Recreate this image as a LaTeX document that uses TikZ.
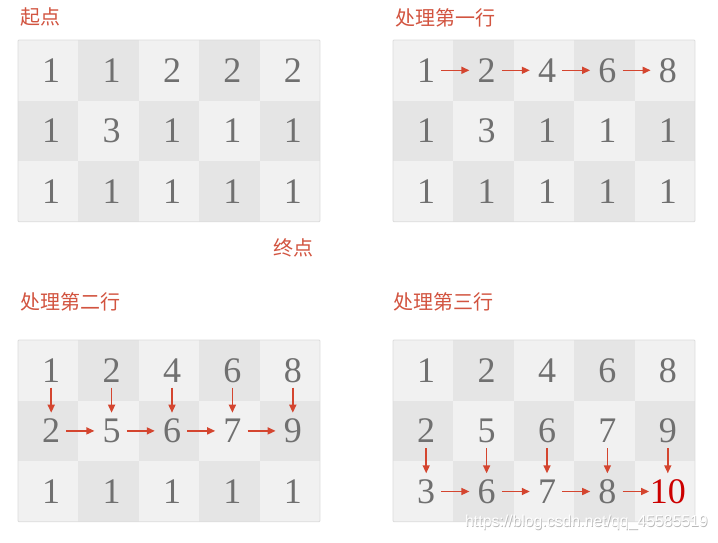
\documentclass[tikz,border=0pt]{standalone}
\usepackage{fontspec}
\usetikzlibrary{arrows.meta}
\newfontfamily\cjk{Noto Sans CJK SC}
\newfontfamily\wmfont{Liberation Sans}
\newfontfamily\numfont{Liberation Serif}
\definecolor{celllight}{HTML}{F1F1F1}
\definecolor{celldark}{HTML}{E5E5E5}
\definecolor{bordergray}{HTML}{DCDCDC}
\definecolor{numgray}{HTML}{707070}
\definecolor{arrred}{HTML}{D4452F}
\definecolor{labred}{HTML}{D25440}
\definecolor{tenred}{HTML}{CC0000}
\tikzset{
  num/.style={inner sep=0pt, font=\numfont\fontsize{36}{40}\selectfont, text=numgray,
    text height=24pt, text depth=0pt, anchor=center},
  arr/.style={draw=arrred, line width=1.5pt, -{Triangle[length=8pt,width=7pt]}},
  harr/.style={arr, shorten <=6pt, shorten >=8pt},
  varr/.style={arr, shorten <=5pt, shorten >=6pt},
  lab/.style={inner sep=0pt, anchor=west, text=labred, font=\cjk\fontsize{20}{22}\selectfont},
  gridframe/.style={draw=bordergray, line width=0.8pt, rounded corners=1pt}
}
\newcommand\mygrid[6]{%
  \foreach \rowvals [count=\r from 0] in {{#4},{#5},{#6}} {
    \foreach \v [count=\c from 0] in \rowvals {
      \pgfmathtruncatemacro\cellparity{mod(\r+\c,2)}
      \ifnum\cellparity=0 \def\cellcol{celllight}\else\def\cellcol{celldark}\fi
      \fill[\cellcol] ({#2+\c*60.4},{#3+\r*60.6}) rectangle ++(60.4,60.6);
      \node[num] (#1-\r-\c) at ({#2+33.2+\c*60.4},{#3+30.3+\r*60.6}) {\v};
    }
  }
  \draw[gridframe] (#2,#3) rectangle ++(302,181.8);
}
\begin{document}
\begin{tikzpicture}[x=1pt,y=-1pt]
\useasboundingbox[fill=white] (0,0) rectangle (718,542);

\mygrid{ga}{18}{40}{1,1,2,2,2}{1,3,1,1,1}{1,1,1,1,1}
\mygrid{gb}{393}{40}{1,2,4,6,8}{1,3,1,1,1}{1,1,1,1,1}
\mygrid{gc}{18}{340}{1,2,4,6,8}{2,5,6,7,9}{1,1,1,1,1}
\mygrid{gd}{393}{340}{1,2,4,6,8}{2,5,6,7,9}{3,6,7,8,{\textcolor{tenred}{10}}}

% labels
\node[lab] (l1) at (20,17) {起点};
\node[lab] (l2) at (273,248) {终点};
\node[lab] (l3) at (395,17.5) {处理第一行};
\node[lab] (l4) at (20,302) {处理第二行};
\node[lab] (l5) at (393,302) {处理第三行};

% grid b: first row
\foreach \a/\b in {0/1,1/2,2/3,3/4}
  \draw[harr] (gb-0-\a.east) -- (gb-0-\b.west);

% grid c: second row
\foreach \c in {0,...,4}
  \draw[varr] (gc-0-\c.south) -- (gc-1-\c.north);
\foreach \a/\b in {0/1,1/2,2/3,3/4}
  \draw[harr] (gc-1-\a.east) -- (gc-1-\b.west);

% grid d: third row
\foreach \c in {0,...,4}
  \draw[varr] (gd-1-\c.south) -- (gd-2-\c.north);
\foreach \a/\b in {0/1,1/2,2/3}
  \draw[harr] (gd-2-\a.east) -- (gd-2-\b.west);
\draw[arr, shorten <=6pt, shorten >=0.5pt] (gd-2-3.east) -- (gd-2-4.west);

% watermark
\node[inner sep=0pt, anchor=west, font=\wmfont\fontsize{15.8}{18}\selectfont, text=black!28] (wm0) at (465.7,523.4) {https://blog.csdn.net/qq\_45585519};
\node[inner sep=0pt, anchor=west, font=\wmfont\fontsize{15.8}{18}\selectfont, text=white] (wm) at (465,522.7) {https://blog.csdn.net/qq\_45585519};
\end{tikzpicture}
\end{document}
